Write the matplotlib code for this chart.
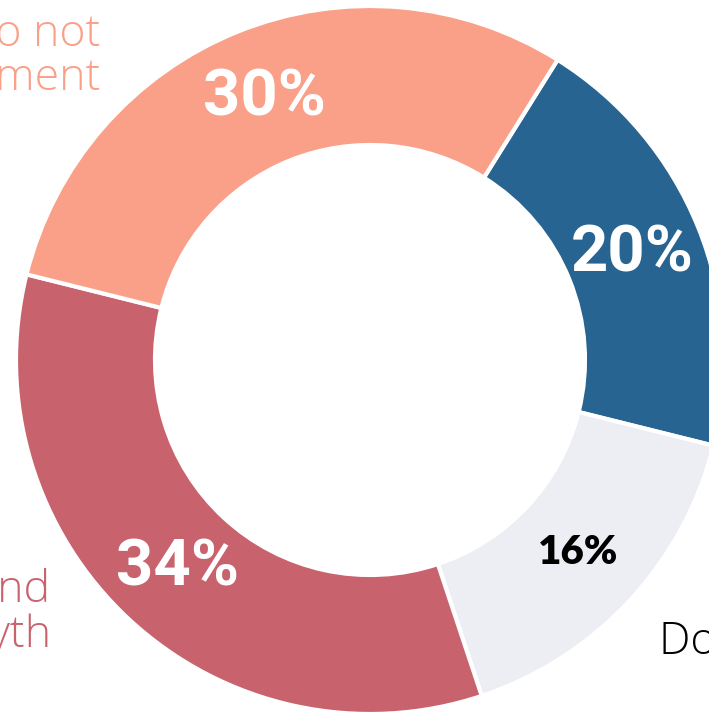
# Donut chart of agreement shares, cropped view
import matplotlib.pyplot as plt
import numpy as np

# data
categories = ["Agree", "Don't know", "Legend\nand myth", "Do not\nagree with statement"]
shares = [20, 16, 34, 30]
colors = ["#276491", "#EDEEF4", "#C8636E", "#FA9F88"]
pct_colors = ["white", "black", "white", "white"]

W, H = 709, 713
fig = plt.figure(figsize=(W / 100, H / 100), dpi=100)
ax = fig.add_axes([0, 0, 1, 1])

cx, cy = 370, H - 360
R = 354
ring = 139

wedges, _ = ax.pie(shares, colors=colors, startangle=58, counterclock=False,
                   radius=R, center=(cx, cy),
                   wedgeprops=dict(width=ring, edgecolor="white", linewidth=3))

# pie resets the limits, so set them afterwards
ax.set_xlim(0, W)
ax.set_ylim(0, H)
ax.set_aspect("equal")
ax.axis("off")

# percentage labels inside the ring
label_r = 283
for i, (s, w) in enumerate(zip(shares, wedges)):
    mid = np.deg2rad((w.theta1 + w.theta2) / 2)
    x = cx + label_r * np.cos(mid)
    y = cy + label_r * np.sin(mid)
    if i == 1:
        ax.text(x, y, f"{s}%", color=pct_colors[i], fontsize=29,
                fontweight="heavy", family="Lato", ha="center", va="center")
    else:
        ax.text(x, y, f"{s}%", color=pct_colors[i], fontsize=47,
                fontweight="bold", family="Roboto", ha="center", va="center")

# category labels, cut by the figure edge
lab = dict(fontsize=32, family="Open Sans", fontweight="light", va="baseline",
           linespacing=1.0)
ax.text(100, H - 90, "Do not\nagree with statement", color="#FA9F88",
        ha="right", **lab)
ax.text(51, H - 647, "Legend\nand myth", color="#C8636E", ha="right", **lab)
ax.text(659, H - 654, "Don't know", color="black", ha="left", **lab)

fig.savefig("out.png", dpi=100)
